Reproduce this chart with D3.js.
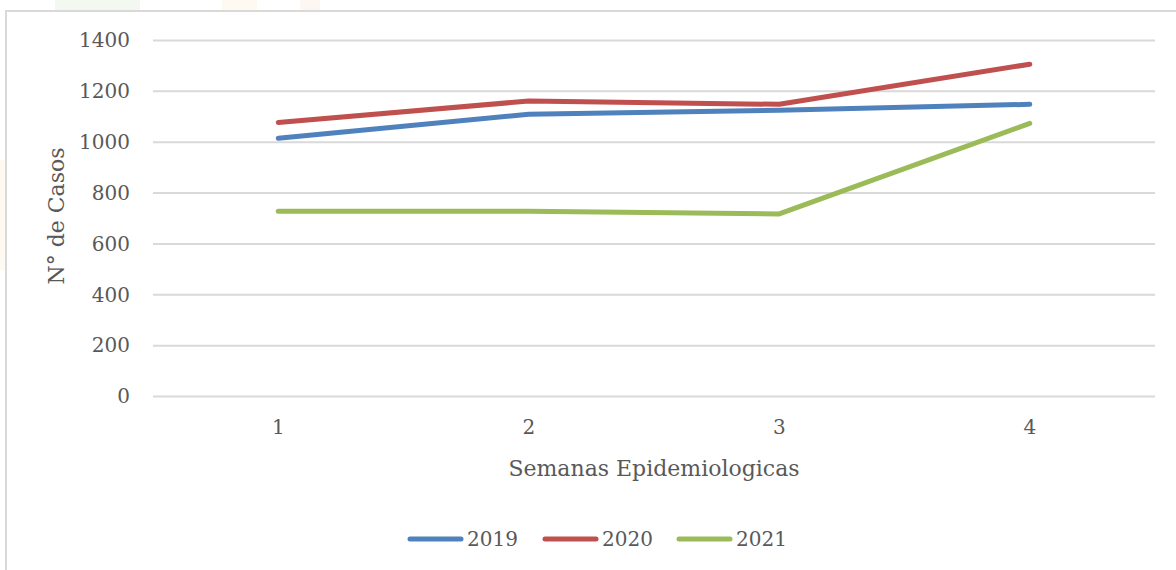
<!DOCTYPE html>
<html><head><meta charset="utf-8">
<script src="https://cdn.jsdelivr.net/npm/d3@7"></script>
<style>
html,body{margin:0;padding:0;background:#fff;}
svg{display:block;}
text{font-family:"DejaVu Serif",serif;fill:#595959;}
</style></head>
<body><svg id="c" width="1176" height="570"></svg>
<script>
const categories = ["1","2","3","4"];
const seriesNames = ["2019","2020","2021"];
const values2019 = [1014, 1108, 1124, 1147];
const values2020 = [1076, 1160, 1147, 1305];
const values2021 = [727, 727, 716, 1072];
const seriesColors = ["#4f81bd","#c0504d","#9bbb59"];
const yTicks = [0,200,400,600,800,1000,1200,1400];
const xTitle = "Semanas Epidemiologicas";
const yTitle = "N° de Casos";

const series = [values2019, values2020, values2021].map((v,i)=>({name:seriesNames[i], color:seriesColors[i], values:v}));

const svg = d3.select("#c");

// faint watermark remnants outside chart box
svg.append("rect").attr("x",55).attr("y",0).attr("width",85).attr("height",10).attr("fill","#f3f8f1");
svg.append("rect").attr("x",222).attr("y",0).attr("width",35).attr("height",10).attr("fill","#fef9f1");
svg.append("rect").attr("x",300).attr("y",0).attr("width",20).attr("height",10).attr("fill","#fdf7f4");
svg.append("rect").attr("x",0).attr("y",160).attr("width",5).attr("height",110).attr("fill","#fef9f1");

// chart box
svg.append("rect").attr("x",6).attr("y",11).attr("width",1200).attr("height",600)
  .attr("fill","#fff").attr("stroke","#d9d9d9").attr("stroke-width",2);

const pL=153, pR=1155, pT=40, pB=396;
const x = d3.scaleBand().domain(categories).range([pL,pR]);
const y = d3.scaleLinear().domain([0,1400]).range([pB,pT]);

// gridlines
const yAxis = d3.axisLeft(y).tickValues(yTicks).tickSize(-(pR-pL)).tickPadding(23).tickFormat(d3.format("d"));
const gy = svg.append("g").attr("transform",`translate(${pL},0)`).call(yAxis);
gy.select(".domain").remove();
gy.selectAll(".tick line").attr("stroke","#d9d9d9").attr("stroke-width",2);
gy.selectAll(".tick text").style("font-size","20px").style("font-family","DejaVu Serif").attr("fill","#595959").attr("dy","0.34em");

const xAxis = d3.axisBottom(x).tickSize(0).tickPadding(24);
const gx = svg.append("g").attr("transform",`translate(0,${pB})`).call(xAxis);
gx.select(".domain").remove();
gx.selectAll(".tick text").style("font-size","20px").style("font-family","DejaVu Serif").attr("fill","#595959");

// lines
const line = d3.line().x((d,i)=>x(categories[i])+x.bandwidth()/2).y(d=>y(d));
svg.append("g").selectAll("path").data(series).join("path")
  .attr("d",d=>line(d.values)).attr("fill","none").attr("stroke",d=>d.color)
  .attr("stroke-width",5).attr("stroke-linecap","round").attr("stroke-linejoin","round");

// axis titles
svg.append("text").attr("x",(pL+pR)/2).attr("y",476).attr("text-anchor","middle")
  .style("font-size","22px").text(xTitle);
svg.append("text").attr("transform","translate(64,216) rotate(-90)").attr("text-anchor","middle")
  .style("font-size","22px").text(yTitle);

// legend
const legX = [408,543,677];
const lg = svg.append("g");
series.forEach((s,i)=>{
  lg.append("line").attr("x1",legX[i]+2).attr("x2",legX[i]+53).attr("y1",539).attr("y2",539)
    .attr("stroke",s.color).attr("stroke-width",5).attr("stroke-linecap","round");
  lg.append("text").attr("x",legX[i]+59).attr("y",539).attr("dy","0.35em").style("font-size","20px").text(s.name);
});
</script></body></html>
